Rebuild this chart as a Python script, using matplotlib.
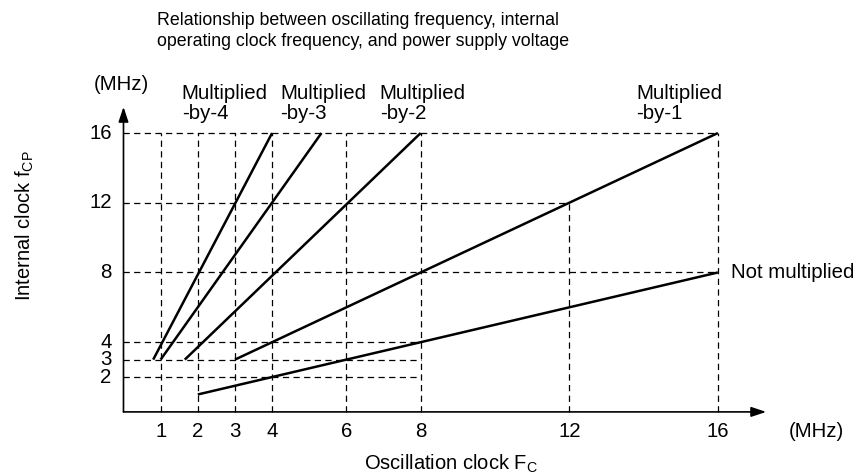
import matplotlib
matplotlib.use('Agg')
import matplotlib.pyplot as plt

plt.rcParams['font.family'] = ['Liberation Sans', 'DejaVu Sans']
plt.rcParams['mathtext.fontset'] = 'custom'
plt.rcParams['mathtext.rm'] = 'Liberation Sans'
plt.rcParams['mathtext.it'] = 'Liberation Sans:italic'

# oscillation clock Fc (MHz) and internal clock fCP (MHz) tick values
osc_ticks = [1, 2, 3, 4, 6, 8, 12, 16]
cp_ticks = [2, 3, 4, 8, 12, 16]

# dashed guides: vertical at each Fc up to a height, horizontal at each fCP out to an Fc
v_guide_x = [1, 2, 3, 4, 6, 8, 12, 16]
v_guide_top = [16, 16, 16, 16, 16, 16, 12, 16]
h_guide_y = [2, 3, 4, 8, 12, 16]
h_guide_end = [8, 8, 8, 16, 12, 16]

# operating ranges for each multiplier mode: (Fc start, fCP start) -> (Fc end, fCP end)
modes = ['Multiplied\n-by-4', 'Multiplied\n-by-3', 'Multiplied\n-by-2',
         'Multiplied\n-by-1', 'Not multiplied']
fc_start = [0.8, 1.0, 1.65, 3, 2]
fcp_start = [3, 3, 3, 3, 1]
fc_end = [4, 5.33, 8, 16, 16]
fcp_end = [16, 16, 16, 16, 8]

fig = plt.figure(figsize=(8.62, 4.75), dpi=100)
ax = fig.add_axes([0, 0, 1, 1])
ax.set_xlim(-3.324, 19.879)
ax.set_ylim(-3.620, 23.632)
ax.axis('off')

# guide lines
dash = dict(color='black', lw=0.9, ls=(0, (5, 3.5)))
for x, top in zip(v_guide_x, v_guide_top):
    ax.plot([x, x], [0, top], **dash)
for y, end in zip(h_guide_y, h_guide_end):
    ax.plot([0, end], [y, y], **dash)

# axes with arrow heads
arrow = dict(arrowstyle='-|>,head_length=0.9,head_width=0.3', color='black', lw=1.2,
             shrinkA=0, shrinkB=0)
ax.annotate('', xy=(17.3, 0), xytext=(0, 0), arrowprops=arrow)
ax.annotate('', xy=(0, 17.5), xytext=(0, 0), arrowprops=arrow)

# mode lines
for x0, y0, x1, y1 in zip(fc_start, fcp_start, fc_end, fcp_end):
    ax.plot([x0, x1], [y0, y1], color='black', lw=1.8, solid_capstyle='butt')

# tick labels
for x in osc_ticks:
    ax.text(x, -1.1, str(x), ha='center', va='center', fontsize=14.7)
for y in cp_ticks:
    ax.text(-0.32, y, str(y), ha='right', va='center', fontsize=14.7)
ax.text(17.9, -1.1, '(MHz)', ha='left', va='center', fontsize=14.7)
ax.text(-0.07, 18.81, '(MHz)', ha='center', va='center', fontsize=14.7)

# mode labels
label_x = [1.57, 4.22, 6.9, 13.8]
for name, lx in zip(modes[:4], label_x):
    ax.text(lx, 18.8, name, ha='left', va='top', fontsize=14.7, linespacing=1.08)
ax.text(16.35, 8, modes[4], ha='left', va='center', fontsize=14.7)

# axis titles
ax.text(8.82, -3.0, r'Oscillation clock F$_\mathrm{C}$', ha='center', va='center',
        fontsize=14.5)
ax.text(-2.65, 10.7, r'Internal clock f$_\mathrm{CP}$', ha='center', va='center',
        fontsize=14.5, rotation=90)

fig.text(157 / 862, 1 - 12 / 475,
         'Relationship between oscillating frequency, internal\n'
         'operating clock frequency, and power supply voltage',
         ha='left', va='top', fontsize=12.75, linespacing=1.3)

fig.savefig('out.png', dpi=100)
